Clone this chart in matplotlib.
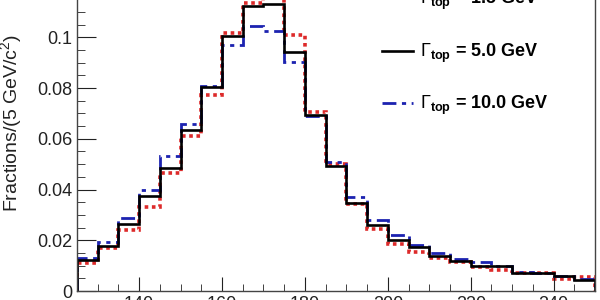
import numpy as np
import matplotlib.pyplot as plt
from matplotlib.ticker import MultipleLocator, FormatStrFormatter

plt.rcParams['font.family'] = 'Liberation Sans'
plt.rcParams['mathtext.fontset'] = 'custom'
plt.rcParams['mathtext.rm'] = 'Liberation Sans'
plt.rcParams['mathtext.it'] = 'Liberation Sans:italic'
plt.rcParams['mathtext.bf'] = 'Liberation Sans:bold'

# bins: 5 GeV from 125 to 250
edges = np.arange(125, 255, 5)

# Gamma_top = 1.5 GeV (red dotted)
w_small = [0.0112, 0.0168, 0.0241, 0.0333, 0.0464, 0.0611, 0.0773, 0.1017, 0.1135, 0.118,
           0.101, 0.0707, 0.0501, 0.0343, 0.0245, 0.0185, 0.0153, 0.0129, 0.0116, 0.0096,
           0.0083, 0.0072, 0.0072, 0.0046, 0.0054]
# Gamma_top = 5.0 GeV (black solid)
w_5 = [0.0122, 0.0178, 0.0264, 0.0375, 0.0484, 0.0635, 0.0806, 0.1006, 0.1124, 0.1132,
       0.0944, 0.0692, 0.0493, 0.0348, 0.026, 0.0201, 0.0175, 0.0138, 0.0120, 0.0097,
       0.0097, 0.0071, 0.0069, 0.0058, 0.0045]
# Gamma_top = 10.0 GeV (blue dash-dot)
w_10 = [0.0129, 0.0194, 0.0287, 0.0398, 0.0533, 0.0659, 0.0809, 0.097, 0.1043, 0.1023,
        0.0901, 0.0688, 0.051, 0.037, 0.028, 0.0219, 0.0183, 0.0149, 0.0125, 0.0116,
        0.0099, 0.0073, 0.0071, 0.0058, 0.0048]

labels = [r'$\Gamma_{\mathbf{top}}$ = 1.5 GeV',
          r'$\Gamma_{\mathbf{top}}$ = 5.0 GeV',
          r'$\Gamma_{\mathbf{top}}$ = 10.0 GeV']

fig = plt.figure(figsize=(6, 3), dpi=100)
ax = fig.add_axes([0.1283, 0.03, 0.8634, 1.057])

h_red = ax.stairs(w_small, edges, color='#dd2a2a', lw=2.6, linestyle=(0, (1, 1)))
h_blue = ax.stairs(w_10, edges, color='#1c22b0', lw=2.0, linestyle=(0, (5, 2, 1.5, 2)))
h_blk = ax.stairs(w_5, edges, color='black', lw=1.9)

ax.set_xlim(125, 250)
ax.set_ylim(0, 0.125)

ax.xaxis.set_major_locator(MultipleLocator(20))
ax.xaxis.set_minor_locator(MultipleLocator(5))
ax.yaxis.set_major_locator(MultipleLocator(0.02))
ax.yaxis.set_minor_locator(MultipleLocator(0.005))
ax.yaxis.set_major_formatter(FormatStrFormatter('%g'))

ax.tick_params(axis='both', which='both', direction='in', labelsize=13, colors='#222222')
ax.tick_params(axis='x', which='major', length=10, pad=3.5)
ax.tick_params(axis='x', which='minor', length=5)
ax.tick_params(axis='y', which='major', length=14, pad=3.5)
ax.tick_params(axis='y', which='minor', length=6)
for s in ax.spines.values():
    s.set_color('#444444')
    s.set_linewidth(1.0)

ax.set_ylabel('Fractions/(5 GeV/c$^2$)', fontsize=14, color='#222222')
ax.yaxis.set_label_coords(-0.102, 0.53)

leg = ax.legend([h_red, h_blk, h_blue], labels, loc='upper left',
                bbox_to_anchor=(0.558, 1.003), frameon=False,
                handlelength=1.7, handletextpad=0.4, labelspacing=1.62,
                prop={'size': 13, 'weight': 'bold'})

plt.savefig('out.png', dpi=100)
